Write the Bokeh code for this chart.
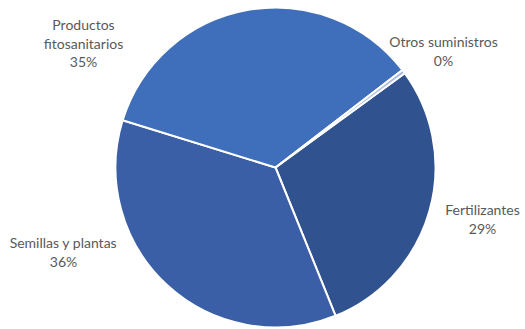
import numpy as np
from bokeh.plotting import figure
from bokeh.models import Range1d, ColumnDataSource
from bokeh.core.properties import value
from bokeh.embed import file_html
from bokeh.resources import INLINE

categories = ["Fertilizantes", "Semillas y plantas", "Productos fitosanitarios", "Otros suministros"]
shares = [28.9, 35.9, 34.8, 0.4]
pct_labels = ["29%", "36%", "35%", "0%"]
colors = ["#30528E", "#3A5FA6", "#3F6EBA", "#A9BCE0"]

W, H = 525, 329
p = figure(width=W, height=H, output_backend="svg", toolbar_location=None,
           x_range=Range1d(0, W), y_range=Range1d(0, H),
           min_border=0, outline_line_color=None)
p.axis.visible = False
p.grid.visible = False
p.background_fill_color = "white"

def sy(y):  # picture y -> data y
    return H - y

cx, cy, r = 275, sy(167), 160
start_cw = 53.9  # degrees clockwise from 12 o'clock, where the first slice begins
vals = np.array(shares, dtype=float)
fr = vals / vals.sum() * 360.0
cw_start = start_cw + np.concatenate([[0], np.cumsum(fr)[:-1]])
cw_end = cw_start + fr
start = np.radians(90 - cw_end)
end = np.radians(90 - cw_start)

src = ColumnDataSource(dict(start=start, end=end, color=colors))
p.wedge(x=cx, y=cy, radius=r, start_angle="start", end_angle="end",
        fill_color="color", line_color="white", line_width=2, source=src)

label_pos = [(482, 209), (63, 242), (83, 24), (443, 41)]
tx, ty, tt = [], [], []
for cat, pct, (lx, ly) in zip(categories, pct_labels, label_pos):
    lines = cat.split(" ") if cat == "Productos fitosanitarios" else [cat]
    lines = lines + [pct]
    for i, ln in enumerate(lines):
        tx.append(lx)
        ty.append(sy(ly + i * 18.7))
        tt.append(ln)
p.text(x=tx, y=ty, text=tt, text_align="center", text_baseline="middle",
       text_font=value("Lato"), text_font_size="14px", text_color="#595959")

open("out.html", "w").write(file_html(p, INLINE))
